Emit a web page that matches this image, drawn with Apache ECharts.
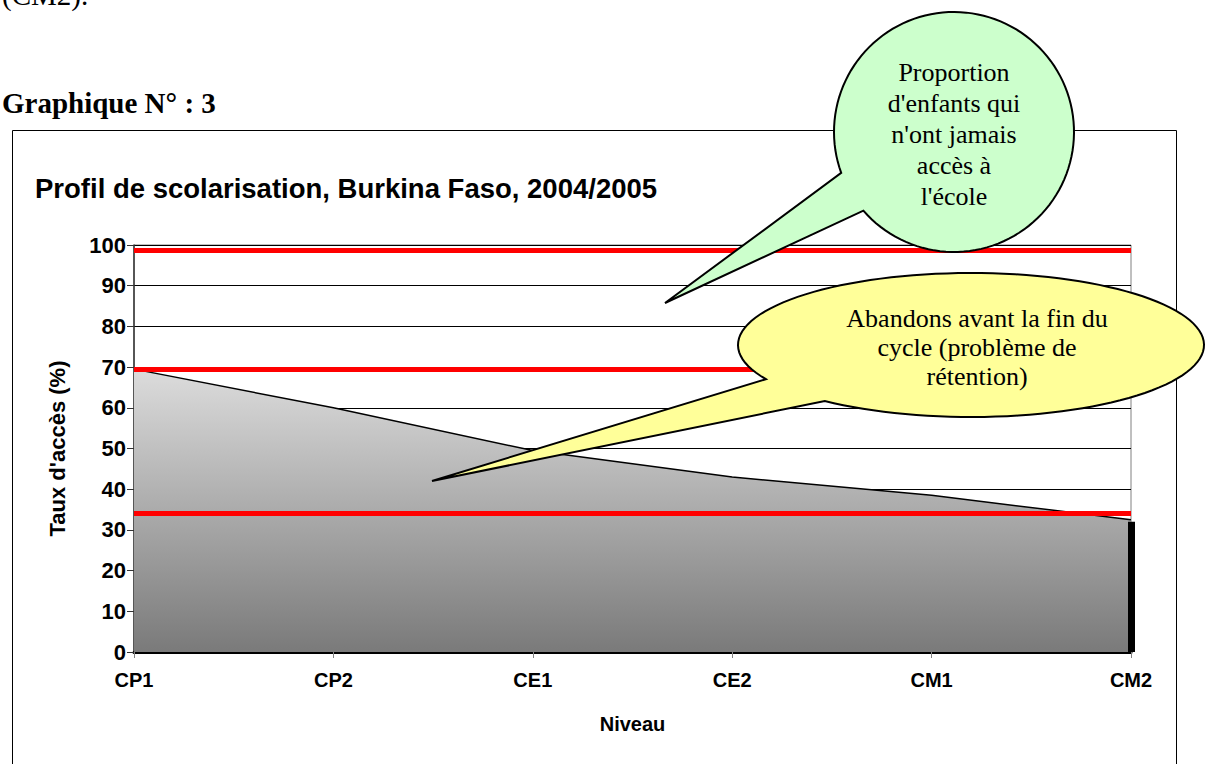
<!DOCTYPE html>
<html>
<head>
<meta charset="utf-8">
<script src="https://cdn.jsdelivr.net/npm/echarts@6/dist/echarts.min.js"></script>
<style>
  html, body { margin: 0; padding: 0; background: #fff; }
  #graphique { width: 1208px; height: 764px; }
</style>
</head>
<body>
<div id="graphique"></div>
<script>
// niveaux et taux d'accès
var niveaux = ['CP1', 'CP2', 'CE1', 'CE2', 'CM1', 'CM2'];
var tauxAcces = [69.5, 60, 49.5, 43, 38.5, 32.5];
// lignes rouges : accès max, accès CP1, achèvement
var lignesRouges = [98.8, 69.5, 34];
// barre noire en CM2
var barreCM2 = 32;

var texteVert = ['Proportion', "d'enfants qui", "n'ont jamais", 'accès à', "l'école"];
var texteJaune = ['Abandons avant la fin du', 'cycle (problème de', 'rétention)'];

var sans = '"Liberation Sans", Arial, sans-serif';
var serif = '"Liberation Serif", "Times New Roman", serif';

// contour d'une bulle : ellipse + pointe (coordonnées écran)
function bulle(cx, cy, rx, ry, b1, b2, pointe) {
  var a1 = Math.atan2((b1[1] - cy) / ry, (b1[0] - cx) / rx);
  var a2 = Math.atan2((b2[1] - cy) / ry, (b2[0] - cx) / rx);
  if (a2 < a1) a2 += Math.PI * 2;
  var pts = [];
  var n = 120;
  for (var i = 0; i <= n; i++) {
    var t = a1 + (a2 - a1) * i / n;
    pts.push([cx + rx * Math.cos(t), cy + ry * Math.sin(t)]);
  }
  pts.push(pointe);
  return pts;
}

var chart = echarts.init(document.getElementById('graphique'), null, { renderer: 'svg' });

chart.setOption({
  animation: false,
  backgroundColor: '#fff',
  grid: {
    left: 134, right: 77, top: 245, bottom: 112,
    show: true, backgroundColor: '#fff', borderColor: '#808080', borderWidth: 1
  },
  xAxis: {
    type: 'category',
    data: niveaux,
    boundaryGap: false,
    name: 'Niveau',
    nameLocation: 'middle',
    nameGap: 62,
    nameTextStyle: { fontFamily: sans, fontWeight: 'bold', fontSize: 20, color: '#000' },
    axisLine: { lineStyle: { color: '#000', width: 3 } },
    axisTick: { show: true, length: 6, lineStyle: { color: '#808080' } },
    axisLabel: { margin: 18, fontFamily: sans, fontWeight: 'bold', fontSize: 20, color: '#000' },
    splitLine: { show: false }
  },
  yAxis: {
    type: 'value',
    min: 0, max: 100, interval: 10,
    name: "Taux d'accès (%)",
    nameLocation: 'middle',
    nameGap: 66,
    nameTextStyle: { fontFamily: sans, fontWeight: 'bold', fontSize: 22, color: '#000' },
    axisLine: { show: true, lineStyle: { color: '#333', width: 1.5 } },
    axisTick: { show: true, length: 7, lineStyle: { color: '#333' } },
    axisLabel: { margin: 8, fontFamily: sans, fontWeight: 'bold', fontSize: 22, color: '#000' },
    splitLine: { show: true, lineStyle: { color: '#000', width: 1 } }
  },
  series: [
    {
      type: 'line',
      data: tauxAcces,
      symbol: 'none',
      lineStyle: { color: '#000', width: 1.5 },
      areaStyle: {
        opacity: 1,
        color: {
          type: 'linear', x: 0, y: 0, x2: 0, y2: 1,
          colorStops: [
            { offset: 0, color: '#dcdcdc' },
            { offset: 1, color: '#7a7a7a' }
          ]
        }
      },
      z: 2,
      markLine: {
        silent: true,
        symbol: 'none',
        label: { show: false },
        lineStyle: { color: '#ff0000', width: 5, type: 'solid' },
        data: lignesRouges.map(function (v) { return { yAxis: v }; })
          .concat([[
            { coord: ['CM2', 0], lineStyle: { color: '#000', width: 7 } },
            { coord: ['CM2', barreCM2] }
          ]])
      }
    }
  ],
  graphic: [
    // texte du document au-dessus du graphique
    { type: 'text', x: 2, y: 9, style: { text: '(CM2).', font: '29px ' + serif, fill: '#000', verticalAlign: 'bottom' } },
    { type: 'text', x: 2, y: 103, style: { text: 'Graphique N° : 3', font: 'bold 29px ' + serif, fill: '#000', verticalAlign: 'middle' } },
    // cadre du graphique
    { type: 'rect', shape: { x: 12.5, y: 130.5, width: 1164, height: 700 },
      style: { fill: 'none', stroke: '#000', lineWidth: 1 }, z: 0, silent: true },
    // titre
    { type: 'text', x: 35, y: 188, style: { text: 'Profil de scolarisation, Burkina Faso, 2004/2005', font: 'bold 27.5px ' + sans, fill: '#000', verticalAlign: 'middle' } },
    // bulle verte
    { type: 'polygon', z: 100,
      shape: { points: bulle(954, 132, 120, 120, [841, 173], [863, 211], [665, 303]) },
      style: { fill: '#ccffcc', stroke: '#000', lineWidth: 2 } },
    { type: 'text', z: 101, x: 954, y: 134,
      style: { text: texteVert.join('\n'), font: '26px ' + serif, fill: '#000',
        align: 'center', verticalAlign: 'middle', lineHeight: 31 } },
    // bulle jaune
    { type: 'polygon', z: 100,
      shape: { points: bulle(971, 345, 233, 72, [767, 379], [825, 401], [432, 481]) },
      style: { fill: '#ffff99', stroke: '#000', lineWidth: 2 } },
    { type: 'text', z: 101, x: 977, y: 347,
      style: { text: texteJaune.join('\n'), font: '26px ' + serif, fill: '#000',
        align: 'center', verticalAlign: 'middle', lineHeight: 29 } }
  ]
});
</script>
</body>
</html>
